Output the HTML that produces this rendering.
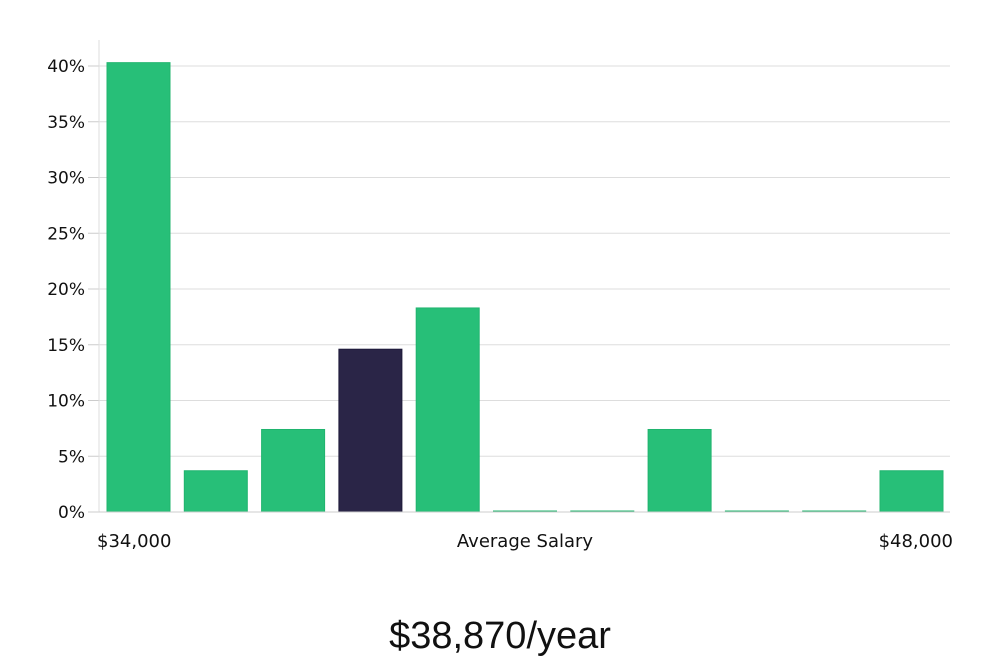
<!DOCTYPE html>
<html><head><meta charset="utf-8"><style>
html,body{margin:0;padding:0;background:#fff;width:1000px;height:660px;overflow:hidden}
svg text{font-family:"DejaVu Sans","Liberation Sans",sans-serif;fill:#111}
</style></head><body>
<svg id="chart" width="1000" height="660" xmlns="http://www.w3.org/2000/svg">
<g id="grid"></g>
<g id="bars"></g>
<g id="yaxis"></g>
<line x1="99" y1="40" x2="99" y2="512" stroke="#ddd"/>
<line x1="99" y1="512" x2="950" y2="512" stroke="#ccc"/>
<text x="97" y="547" font-size="18">$34,000</text>
<text x="525" y="547" font-size="18" text-anchor="middle">Average Salary</text>
<text x="953" y="547" font-size="18" text-anchor="end">$48,000</text>
<text x="500" y="648" font-size="38" text-anchor="middle" style="font-family:'Liberation Sans',sans-serif;font-weight:300">$38,870/year</text>
</svg>
<script>
const values=[40.3,3.7,7.4,14.6,18.3,0,0,7.4,0,0,3.7];
const highlight=[false,false,false,true,false,false,false,false,false,false,false];
const yTicks=[0,5,10,15,20,25,30,35,40];
const yLabels=["0%","5%","10%","15%","20%","25%","30%","35%","40%"];
const NS="http://www.w3.org/2000/svg";
const y=v=>512-v*(446/40);
const x=i=>107+i*77.3;
const grid=document.getElementById('grid'),ya=document.getElementById('yaxis'),bars=document.getElementById('bars');
yTicks.forEach((t,i)=>{
  const l=document.createElementNS(NS,'line');
  l.setAttribute('x1',99);l.setAttribute('x2',950);l.setAttribute('y1',y(t));l.setAttribute('y2',y(t));
  l.setAttribute('stroke','#ddd');
  
  
  grid.appendChild(l);
  const tk=document.createElementNS(NS,'line');
  tk.setAttribute('x1',88);tk.setAttribute('x2',99);tk.setAttribute('y1',y(t));tk.setAttribute('y2',y(t));
  tk.setAttribute('stroke','#ccc');
  
  
  ya.appendChild(tk);
  const tx=document.createElementNS(NS,'text');
  tx.setAttribute('x',85);tx.setAttribute('y',y(t)+6);tx.setAttribute('text-anchor','end');tx.setAttribute('font-size','17');
  tx.textContent=yLabels[i];
  
  
  ya.appendChild(tx);
});
values.forEach((v,i)=>{
  const r=document.createElementNS(NS,'rect');
  const h=Math.max(y(0)-y(v),1);
  r.setAttribute('x',x(i));r.setAttribute('width',63);
  r.setAttribute('y',y(0)-h);r.setAttribute('height',h);
  r.setAttribute('fill',highlight[i]?'#2a2547':'#27bf78');
  r.setAttribute('stroke',highlight[i]?'#1e1a3a':'#20b46e');
  
  
  bars.appendChild(r);
});
</script>
</body></html>
